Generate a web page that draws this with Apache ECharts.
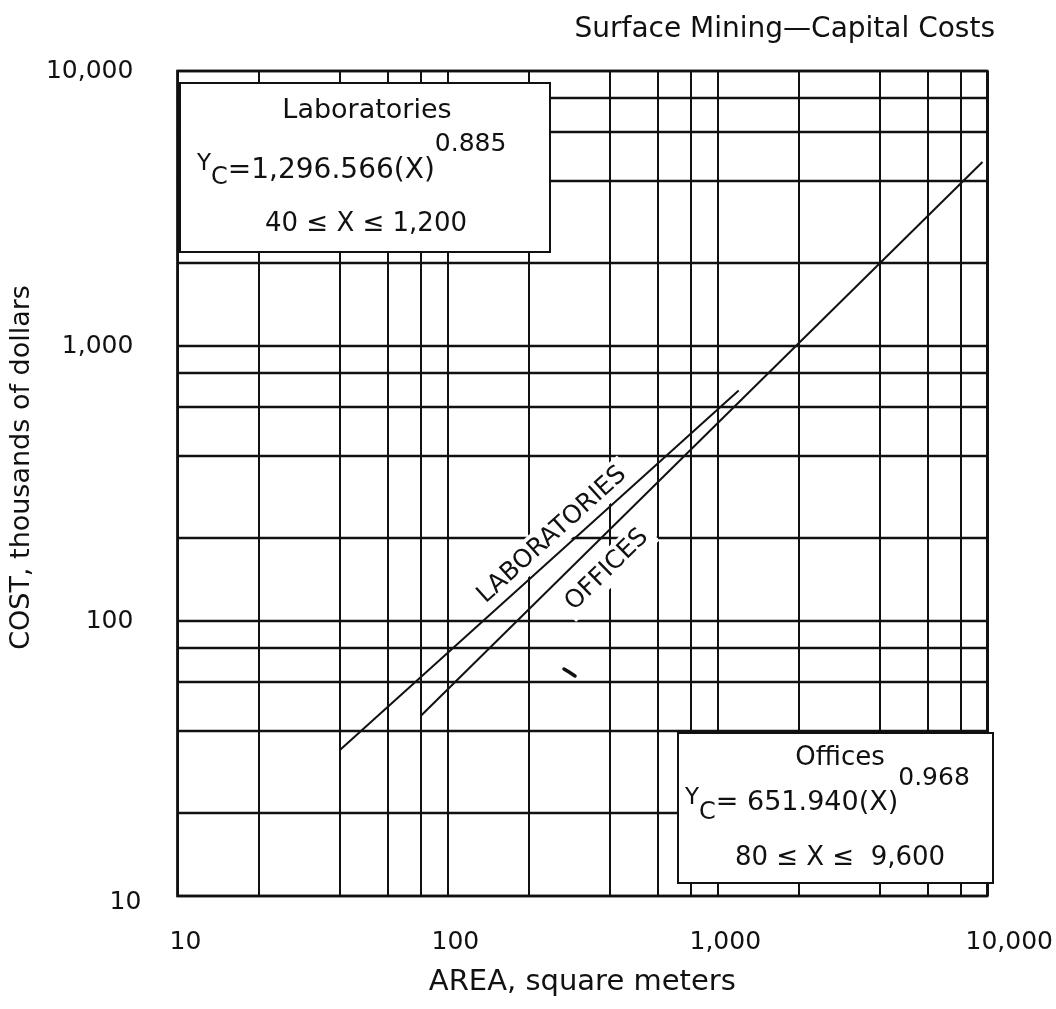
<!DOCTYPE html>
<html>
<head>
<meta charset="utf-8">
<script src="https://cdn.jsdelivr.net/npm/echarts@6/dist/echarts.min.js"></script>
<style>
  html, body { margin: 0; padding: 0; background: #fff; }
  #chart { width: 1056px; height: 1009px; }
</style>
</head>
<body>
<div id="chart"></div>
<script>
const FONT = '"DejaVu Sans", sans-serif';
const INK = '#111';

// minor grid rules between the decade lines (both axes)
const minorGridX = [20, 40, 60, 80, 200, 400, 600, 800, 2000, 4000, 6000, 8000];
const minorGridY = [20, 40, 60, 80, 200, 400, 600, 800, 2000, 4000, 6000, 8000];

// cost curves: end points of each fitted range (area in m2, cost in $1,000)
const labArea = [40, 1200];
const labCost = [33.93, 688.5];
const officeArea = [80, 9600];
const officeCost = [45.33, 4667];

const fmt = v => Number(v).toLocaleString('en-US');

// text measuring for the equation runs (base text, subscript, exponent)
const mctx = document.createElement('canvas').getContext('2d');
function textWidth(str, size) {
  mctx.font = size + 'px "DejaVu Sans"';
  return mctx.measureText(str).width;
}
function txt(str, x, baseline, size, align, z) {
  return {
    type: 'text', x: x, y: baseline - 0.33 * size, z: z || 11,
    style: {
      text: str, fontSize: size, fontFamily: FONT, fill: INK,
      align: align || 'left', verticalAlign: 'middle',
      textAlign: align || 'left', textVerticalAlign: 'middle'
    }
  };
}
// pieces: [text, size, baseline shift]
function run(x, baseline, pieces) {
  const els = [];
  let cx = x;
  pieces.forEach(p => {
    els.push(txt(p[0], cx, baseline + p[2], p[1], 'left'));
    cx += textWidth(p[0], p[1]);
  });
  return els;
}
function box(x, y, w, h) {
  return {
    type: 'rect', z: 10,
    shape: { x: x, y: y, width: w, height: h },
    style: { fill: '#fff', stroke: INK, lineWidth: 2 }
  };
}
function slanted(str, x, y, angleDeg) {
  return {
    type: 'text', x: x, y: y, rotation: angleDeg * Math.PI / 180, z: 6,
    style: {
      text: str, fontSize: 25, fontFamily: FONT, fill: INK,
      align: 'center', verticalAlign: 'middle',
      textAlign: 'center', textVerticalAlign: 'middle',
      backgroundColor: '#fff', padding: [3, 6]
    }
  };
}

const graphicEls = [].concat(
  // Laboratories equation box
  [box(180, 83, 370, 169)],
  [txt('Laboratories', 367, 120, 27, 'center')],
  run(197, 180, [['Y', 23, -8], ['C', 24, 6], ['=1,296.566(X)', 28, 0], ['0.885', 25, -27]]),
  [txt('40 \u2264 X \u2264 1,200', 366, 233, 26, 'center')],
  // Offices equation box
  [box(678, 733, 315, 150)],
  [txt('Offices', 840, 767, 26, 'center')],
  run(685, 812, [['Y', 23, -6], ['C', 24, 9], ['= 651.940(X)', 27, 0], ['0.968', 25, -25]]),
  [txt('80 \u2264 X \u2264  9,600', 840, 867, 26, 'center')],
  // curve names written along the lines
  [slanted('LABORATORIES', 552, 535, 42), slanted('OFFICES', 607, 570, 44.4)],
  // small ink mark
  [{
    type: 'polyline', z: 6,
    shape: { points: [[564, 669], [569, 672], [575, 676]] },
    style: { stroke: INK, lineWidth: 3.5, lineCap: 'round' }
  }]
);

const gridLineData = minorGridX.map(v => ({ xAxis: v, lineStyle: { width: 2 } }))
  .concat(minorGridY.map(v => ({ yAxis: v, lineStyle: { width: 2.4 } })));

const chart = echarts.init(document.getElementById('chart'), null, { renderer: 'canvas' });

chart.setOption({
  animation: false,
  backgroundColor: '#fff',
  title: {
    text: 'Surface Mining\u2014Capital Costs',
    right: 56, top: 11,
    textStyle: { fontFamily: FONT, fontSize: 28, fontWeight: 'normal', color: INK }
  },
  grid: {
    left: 177, right: 62, top: 71, bottom: 113,
    show: true, borderColor: INK, borderWidth: 2.5, backgroundColor: '#fff'
  },
  xAxis: {
    type: 'log', logBase: 10, min: 10, max: 10000,
    name: 'AREA, square meters', nameLocation: 'middle', nameGap: 72,
    nameTextStyle: { fontFamily: FONT, fontSize: 29, color: INK },
    axisLine: { show: false }, axisTick: { show: false },
    splitLine: { show: true, lineStyle: { color: INK, width: 2 } },
    axisLabel: {
      margin: 34, showMinLabel: true, showMaxLabel: true, hideOverlap: false,
      formatter: v => (v >= 10000 ? '{r|' : '{c|') + fmt(v) + '}',
      rich: {
        c: { fontFamily: FONT, fontSize: 25, color: INK, padding: [0, 0, 0, 16] },
        r: { fontFamily: FONT, fontSize: 25, color: INK, padding: [0, 0, 0, 44] }
      }
    }
  },
  yAxis: {
    type: 'log', logBase: 10, min: 10, max: 10000,
    name: 'COST, thousands of dollars', nameLocation: 'middle', nameGap: 132,
    nameTextStyle: { fontFamily: FONT, fontSize: 27, color: INK, padding: [0, 0, 0, 32] },
    axisLine: { show: false }, axisTick: { show: false },
    splitLine: { show: true, lineStyle: { color: INK, width: 2.4 } },
    axisLabel: {
      margin: 36, showMinLabel: true, showMaxLabel: true, hideOverlap: false,
      formatter: v => (v <= 10 ? '{b|' : '{n|') + fmt(v) + '}',
      rich: {
        n: { fontFamily: FONT, fontSize: 25, color: INK, padding: [0, 8, 0, 0] },
        b: { fontFamily: FONT, fontSize: 25, color: INK, padding: [12, 0, 0, 0] }
      }
    }
  },
  graphic: { elements: graphicEls },
  series: [
    {
      name: 'grid', type: 'line', z: 1, silent: true,
      data: [[10, 10]], symbol: 'none', lineStyle: { opacity: 0 },
      markLine: {
        silent: true, symbol: 'none', label: { show: false },
        lineStyle: { color: INK, type: 'solid' },
        data: gridLineData
      }
    },
    {
      name: 'Laboratories', type: 'line', z: 8, symbol: 'none',
      lineStyle: { color: INK, width: 2 },
      data: labArea.map((a, i) => [a, labCost[i]])
    },
    {
      name: 'Offices', type: 'line', z: 8, symbol: 'none',
      lineStyle: { color: INK, width: 2 },
      data: officeArea.map((a, i) => [a, officeCost[i]])
    }
  ]
});
</script>
</body>
</html>
